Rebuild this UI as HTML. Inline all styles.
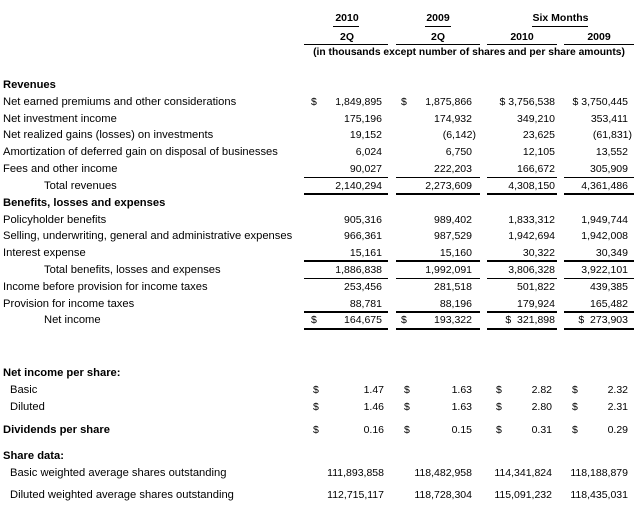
<!DOCTYPE html>
<html><head><meta charset="utf-8"><style>
body{margin:0;width:638px;height:509px;background:#fff;position:relative;overflow:hidden;font-family:"Liberation Sans","DejaVu Sans",sans-serif;font-size:10.5px;color:#000}
div{position:absolute;line-height:14px;white-space:nowrap}
.b{font-weight:bold}
.n{text-align:right}
.l{position:absolute;background:#000;height:1px}
.t{height:2px}
.c{text-align:center}
.lb{font-size:11.2px}
</style></head><body>
<div class="b c" style="left:307px;width:80px;top:11px">2010</div>
<div class="l" style="left:333px;width:26px;top:26px"></div>
<div class="b c" style="left:396px;width:84px;top:11px">2009</div>
<div class="l" style="left:425px;width:26px;top:26px"></div>
<div class="b c" style="left:487px;width:147px;top:11px">Six Months</div>
<div class="l" style="left:532px;width:56px;top:26px"></div>
<div class="b c" style="left:307px;width:80px;top:30px">2Q</div>
<div class="b c" style="left:396px;width:84px;top:30px">2Q</div>
<div class="b c" style="left:487px;width:70px;top:30px">2010</div>
<div class="b c" style="left:564px;width:70px;top:30px">2009</div>
<div class="l" style="left:304px;width:84px;top:44px"></div>
<div class="l" style="left:396px;width:84px;top:44px"></div>
<div class="l" style="left:487px;width:70px;top:44px"></div>
<div class="l" style="left:564px;width:70px;top:44px"></div>
<div class="b c" style="left:300px;width:338px;top:46px;font-size:10.3px">(in thousands except number of shares and per share amounts)</div>

<div class="b lb" style="left:3px;top:78px">Revenues</div>
<div class="lb" style="left:3px;top:95px">Net earned premiums and other considerations</div>
<div class="lb" style="left:3px;top:112px">Net investment income</div>
<div class="lb" style="left:3px;top:128px">Net realized gains (losses) on investments</div>
<div class="lb" style="left:3px;top:145px">Amortization of deferred gain on disposal of businesses</div>
<div class="lb" style="left:3px;top:162px">Fees and other income</div>
<div class="lb" style="left:44px;top:179px">Total revenues</div>
<div class="b lb" style="left:3px;top:196px">Benefits, losses and expenses</div>
<div class="lb" style="left:3px;top:213px">Policyholder benefits</div>
<div class="lb" style="left:3px;top:229px">Selling, underwriting, general and administrative expenses</div>
<div class="lb" style="left:3px;top:246px">Interest expense</div>
<div class="lb" style="left:44px;top:263px">Total benefits, losses and expenses</div>
<div class="lb" style="left:3px;top:280px">Income before provision for income taxes</div>
<div class="lb" style="left:3px;top:297px">Provision for income taxes</div>
<div class="lb" style="left:44px;top:313px">Net income</div>

<div style="left:311px;top:95px">$</div>
<div style="left:401px;top:95px">$</div>
<div style="left:311px;top:313px">$</div>
<div style="left:401px;top:313px">$</div>

<div class="n" style="right:256px;top:95px">1,849,895</div>
<div class="n" style="right:256px;top:112px">175,196</div>
<div class="n" style="right:256px;top:128px">19,152</div>
<div class="n" style="right:256px;top:145px">6,024</div>
<div class="n" style="right:256px;top:162px">90,027</div>
<div class="n" style="right:256px;top:179px">2,140,294</div>
<div class="n" style="right:256px;top:213px">905,316</div>
<div class="n" style="right:256px;top:229px">966,361</div>
<div class="n" style="right:256px;top:246px">15,161</div>
<div class="n" style="right:256px;top:263px">1,886,838</div>
<div class="n" style="right:256px;top:280px">253,456</div>
<div class="n" style="right:256px;top:297px">88,781</div>
<div class="n" style="right:256px;top:313px">164,675</div>

<div class="n" style="right:166px;top:95px">1,875,866</div>
<div class="n" style="right:166px;top:112px">174,932</div>
<div class="n" style="right:162px;top:128px">(6,142)</div>
<div class="n" style="right:166px;top:145px">6,750</div>
<div class="n" style="right:166px;top:162px">222,203</div>
<div class="n" style="right:166px;top:179px">2,273,609</div>
<div class="n" style="right:166px;top:213px">989,402</div>
<div class="n" style="right:166px;top:229px">987,529</div>
<div class="n" style="right:166px;top:246px">15,160</div>
<div class="n" style="right:166px;top:263px">1,992,091</div>
<div class="n" style="right:166px;top:280px">281,518</div>
<div class="n" style="right:166px;top:297px">88,196</div>
<div class="n" style="right:166px;top:313px">193,322</div>

<div class="n" style="right:83px;top:95px">$ 3,756,538</div>
<div class="n" style="right:83px;top:112px">349,210</div>
<div class="n" style="right:83px;top:128px">23,625</div>
<div class="n" style="right:83px;top:145px">12,105</div>
<div class="n" style="right:83px;top:162px">166,672</div>
<div class="n" style="right:83px;top:179px">4,308,150</div>
<div class="n" style="right:83px;top:213px">1,833,312</div>
<div class="n" style="right:83px;top:229px">1,942,694</div>
<div class="n" style="right:83px;top:246px">30,322</div>
<div class="n" style="right:83px;top:263px">3,806,328</div>
<div class="n" style="right:83px;top:280px">501,822</div>
<div class="n" style="right:83px;top:297px">179,924</div>
<div class="n" style="right:83px;top:313px">$ &nbsp;321,898</div>

<div class="n" style="right:10px;top:95px">$ 3,750,445</div>
<div class="n" style="right:10px;top:112px">353,411</div>
<div class="n" style="right:6px;top:128px">(61,831)</div>
<div class="n" style="right:10px;top:145px">13,552</div>
<div class="n" style="right:10px;top:162px">305,909</div>
<div class="n" style="right:10px;top:179px">4,361,486</div>
<div class="n" style="right:10px;top:213px">1,949,744</div>
<div class="n" style="right:10px;top:229px">1,942,008</div>
<div class="n" style="right:10px;top:246px">30,349</div>
<div class="n" style="right:10px;top:263px">3,922,101</div>
<div class="n" style="right:10px;top:280px">439,385</div>
<div class="n" style="right:10px;top:297px">165,482</div>
<div class="n" style="right:10px;top:313px">$ &nbsp;273,903</div>

<div class="l" style="left:304px;width:84px;top:177px"></div>
<div class="l" style="left:396px;width:84px;top:177px"></div>
<div class="l" style="left:487px;width:70px;top:177px"></div>
<div class="l" style="left:564px;width:70px;top:177px"></div>
<div class="l t" style="left:304px;width:84px;top:193px"></div>
<div class="l t" style="left:396px;width:84px;top:193px"></div>
<div class="l t" style="left:487px;width:70px;top:193px"></div>
<div class="l t" style="left:564px;width:70px;top:193px"></div>
<div class="l t" style="left:304px;width:84px;top:260px"></div>
<div class="l t" style="left:396px;width:84px;top:260px"></div>
<div class="l t" style="left:487px;width:70px;top:260px"></div>
<div class="l t" style="left:564px;width:70px;top:260px"></div>
<div class="l" style="left:304px;width:84px;top:278px"></div>
<div class="l" style="left:396px;width:84px;top:278px"></div>
<div class="l" style="left:487px;width:70px;top:278px"></div>
<div class="l" style="left:564px;width:70px;top:278px"></div>
<div class="l t" style="left:304px;width:84px;top:311px"></div>
<div class="l t" style="left:396px;width:84px;top:311px"></div>
<div class="l t" style="left:487px;width:70px;top:311px"></div>
<div class="l t" style="left:564px;width:70px;top:311px"></div>
<div class="l t" style="left:304px;width:84px;top:328px"></div>
<div class="l t" style="left:396px;width:84px;top:328px"></div>
<div class="l t" style="left:487px;width:70px;top:328px"></div>
<div class="l t" style="left:564px;width:70px;top:328px"></div>

<div class="b lb" style="left:3px;top:366px">Net income per share:</div>
<div class="lb" style="left:10px;top:383px">Basic</div>
<div class="lb" style="left:10px;top:400px">Diluted</div>
<div class="b lb" style="left:3px;top:423px">Dividends per share</div>
<div class="b lb" style="left:3px;top:449px">Share data:</div>
<div class="lb" style="left:10px;top:466px">Basic weighted average shares outstanding</div>
<div class="lb" style="left:10px;top:488px">Diluted weighted average shares outstanding</div>

<div style="left:313px;top:383px">$</div><div style="left:404px;top:383px">$</div><div style="left:496px;top:383px">$</div><div style="left:572px;top:383px">$</div>
<div style="left:313px;top:400px">$</div><div style="left:404px;top:400px">$</div><div style="left:496px;top:400px">$</div><div style="left:572px;top:400px">$</div>
<div style="left:313px;top:423px">$</div><div style="left:404px;top:423px">$</div><div style="left:496px;top:423px">$</div><div style="left:572px;top:423px">$</div>

<div class="n" style="right:254px;top:383px">1.47</div><div class="n" style="right:166px;top:383px">1.63</div><div class="n" style="right:86px;top:383px">2.82</div><div class="n" style="right:10px;top:383px">2.32</div>
<div class="n" style="right:254px;top:400px">1.46</div><div class="n" style="right:166px;top:400px">1.63</div><div class="n" style="right:86px;top:400px">2.80</div><div class="n" style="right:10px;top:400px">2.31</div>
<div class="n" style="right:254px;top:423px">0.16</div><div class="n" style="right:166px;top:423px">0.15</div><div class="n" style="right:86px;top:423px">0.31</div><div class="n" style="right:10px;top:423px">0.29</div>
<div class="n" style="right:254px;top:466px">111,893,858</div><div class="n" style="right:166px;top:466px">118,482,958</div><div class="n" style="right:86px;top:466px">114,341,824</div><div class="n" style="right:10px;top:466px">118,188,879</div>
<div class="n" style="right:254px;top:488px">112,715,117</div><div class="n" style="right:166px;top:488px">118,728,304</div><div class="n" style="right:86px;top:488px">115,091,232</div><div class="n" style="right:10px;top:488px">118,435,031</div>
</body></html>
